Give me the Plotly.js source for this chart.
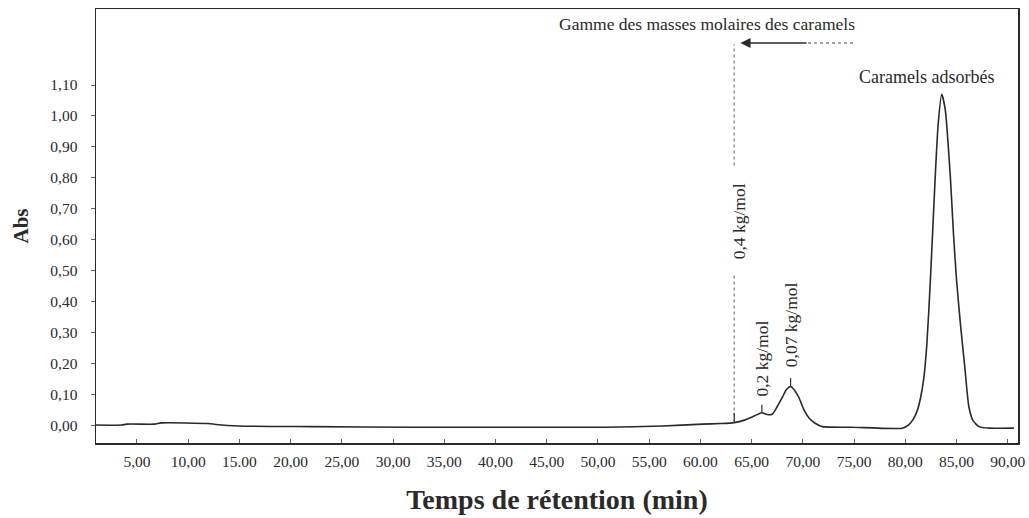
<!DOCTYPE html>
<html>
<head>
<meta charset="utf-8">
<script src="https://cdn.plot.ly/plotly-3.0.1.min.js"></script>
<style>html,body{margin:0;padding:0;background:#fff;}#chart{width:1029px;height:518px;}</style>
</head>
<body>
<div id="chart"></div>
<script>
// Retention time (min) and absorbance
const time = [1.0, 3.5, 4.0, 6.7, 7.4, 12.0, 12.7, 15.0, 22.0, 32.0, 45.0, 50.7, 56.3, 60.2, 62.0, 63.3, 64.3, 65.3, 66.0, 66.5, 67.0, 67.5, 68.0, 68.4, 68.8, 69.2, 69.6, 70.1, 70.6, 71.2, 71.9, 74.8, 79.7, 80.3, 80.8, 81.2, 81.5, 81.8, 82.1, 82.45, 82.9, 83.2, 83.55, 83.9, 84.4, 84.7, 85.0, 85.4, 85.8, 86.2, 86.6, 87.2, 88.2, 90.6];
const absorbance = [0.0, 0.0, 0.003, 0.003, 0.007, 0.005, 0.002, -0.003, -0.005, -0.007, -0.007, -0.007, -0.003, 0.003, 0.005, 0.008, 0.016, 0.03, 0.04, 0.034, 0.035, 0.06, 0.09, 0.115, 0.125, 0.112, 0.09, 0.05, 0.023, 0.006, -0.005, -0.007, -0.01, 0.0, 0.02, 0.05, 0.09, 0.15, 0.26, 0.47, 0.79, 0.97, 1.07, 1.02, 0.80, 0.62, 0.47, 0.32, 0.19, 0.06, 0.015, -0.005, -0.01, -0.01];

const xTickVals = [5, 10, 15, 20, 25, 30, 35, 40, 45, 50, 55, 60, 65, 70, 75, 80, 85, 90];
const xTickText = ['5,00', '10,00', '15.00', '20,00', '25,00', '30,00', '35,00', '40,00', '45,00', '50,00', '55,00', '60.00', '65,00', '70,00', '75,00', '80,00', '85,00', '90,00'];
const yTickVals = [0, 0.1, 0.2, 0.3, 0.4, 0.5, 0.6, 0.7, 0.8, 0.9, 1.0, 1.1];
const yTickText = ['0,00', '0,10', '0,20', '0,30', '0,40', '0,50', '0,60', '0,70', '0,80', '0,90', '1,00', '1,10'];

// Molar mass markers (retention time, label)
const markerTimes = [63.3, 66.0, 68.8];
const markerLabels = ['0,4 kg/mol', '0,2 kg/mol', '0,07 kg/mol'];
const rangeTitle = 'Gamme des masses molaires des caramels';
const peakLabel = 'Caramels adsorbés';

const serif = 'Liberation Serif, Times New Roman, serif';
const ink = '#2a2a2a';

const trace = {
  x: time, y: absorbance, type: 'scatter', mode: 'lines',
  line: {color: ink, width: 1.6, shape: 'spline', smoothing: 0.6},
  hoverinfo: 'skip'
};

const layout = {
  width: 1029, height: 518,
  margin: {l: 96, r: 11, t: 9, b: 75},
  paper_bgcolor: '#fff', plot_bgcolor: '#fff',
  showlegend: false,
  font: {family: serif, color: ink},
  xaxis: {
    range: [1, 91], tickvals: xTickVals, ticktext: xTickText,
    ticks: 'inside', ticklen: 4, tickcolor: '#666', ticklabelstandoff: 4,
    showline: true, mirror: true, linecolor: ink, linewidth: 1.5,
    showgrid: false, zeroline: false,
    tickfont: {family: serif, size: 15.5, color: ink},
    title: {text: 'Temps de rétention (min)', font: {family: serif, size: 28, color: ink, weight: 'bold'}, standoff: 20}
  },
  yaxis: {
    range: [-0.058, 1.346], tickvals: yTickVals, ticktext: yTickText,
    ticks: 'outside', ticklen: 4, tickcolor: '#666', ticklabelstandoff: 10,
    showline: true, mirror: true, linecolor: ink, linewidth: 1.5,
    showgrid: false, zeroline: false,
    tickfont: {family: serif, size: 15.5, color: ink},
    title: {text: 'Abs', font: {family: serif, size: 21, color: ink, weight: 'bold'}, standoff: 16}
  },
  shapes: [
    // 0.4 kg/mol dotted boundary (lower and upper parts)
    {type: 'line', xref: 'x', yref: 'y', x0: markerTimes[0], x1: markerTimes[0], y0: 0.008, y1: 0.485, line: {color: '#888', width: 1.3, dash: 'dot'}},
    {type: 'line', xref: 'x', yref: 'y', x0: markerTimes[0], x1: markerTimes[0], y0: 0.008, y1: 0.04, line: {color: ink, width: 1.2}},
    {type: 'line', xref: 'x', yref: 'y', x0: markerTimes[0], x1: markerTimes[0], y0: 0.84, y1: 1.232, line: {color: '#888', width: 1.3, dash: 'dot'}},
    // arrow dotted tail
    {type: 'line', xref: 'x', yref: 'y', x0: 70.5, x1: 75.0, y0: 1.236, y1: 1.236, line: {color: '#888', width: 1.3, dash: 'dot'}},
    // small marker ticks
    {type: 'line', xref: 'x', yref: 'y', x0: markerTimes[1], x1: markerTimes[1], y0: 0.04, y1: 0.066, line: {color: ink, width: 1.2}},
    {type: 'line', xref: 'x', yref: 'y', x0: markerTimes[2], x1: markerTimes[2], y0: 0.125, y1: 0.152, line: {color: ink, width: 1.2}}
  ],
  annotations: [
    {xref: 'x', yref: 'y', x: 60.6, y: 1.298, text: rangeTitle, showarrow: false, font: {family: serif, size: 17.5, color: ink}},
    {xref: 'x', yref: 'y', x: 63.9, y: 1.236, ax: 70.5, ay: 1.236, axref: 'x', ayref: 'y', text: '', showarrow: true, arrowhead: 2, arrowsize: 1.2, arrowwidth: 1.7, arrowcolor: ink},
    {xref: 'x', yref: 'y', x: markerTimes[0], y: 0.66, xshift: 5, text: markerLabels[0], textangle: -90, showarrow: false, font: {family: serif, size: 17.5, color: ink}},
    {xref: 'x', yref: 'y', x: markerTimes[1], y: 0.215, text: markerLabels[1], textangle: -90, showarrow: false, font: {family: serif, size: 17.5, color: ink}},
    {xref: 'x', yref: 'y', x: markerTimes[2], y: 0.325, text: markerLabels[2], textangle: -90, showarrow: false, font: {family: serif, size: 17.5, color: ink}},
    {xref: 'x', yref: 'y', x: 82.1, y: 1.125, text: peakLabel, showarrow: false, font: {family: serif, size: 18, color: ink}}
  ]
};

Plotly.newPlot('chart', [trace], layout, {displayModeBar: false, staticPlot: true});
</script>
</body>
</html>
